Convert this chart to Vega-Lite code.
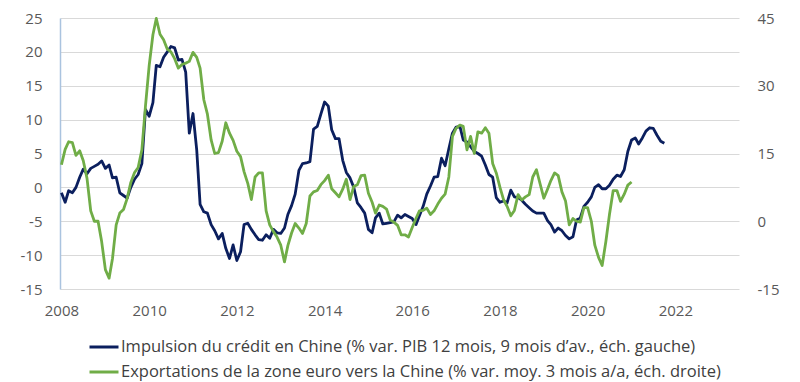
{
  "$schema": "https://vega.github.io/schema/vega-lite/v6.json",
  "width": 679,
  "height": 271,
  "autosize": {"type": "none"},
  "padding": {"left": 60, "top": 18, "right": 61, "bottom": 93},
  "background": "white",
  "config": {
    "view": {"stroke": null},
    "font": "Open Sans",
    "axis": {"labelFont": "Open Sans", "labelFontSize": 15, "labelColor": "#595959", "ticks": false}
  },
  "data": {"values": [
    {"date":"2008-01-01","credit":-0.8,"exports":12.5},
    {"date":"2008-02-01","credit":-2.2,"exports":15.9},
    {"date":"2008-03-01","credit":-0.5,"exports":17.6},
    {"date":"2008-04-01","credit":-0.8,"exports":17.4},
    {"date":"2008-05-01","credit":0.0,"exports":14.6},
    {"date":"2008-06-01","credit":1.5,"exports":15.6},
    {"date":"2008-07-01","credit":2.7,"exports":13.4},
    {"date":"2008-08-01","credit":2.0,"exports":9.5},
    {"date":"2008-09-01","credit":2.8,"exports":2.3},
    {"date":"2008-10-01","credit":3.1,"exports":0.0},
    {"date":"2008-11-01","credit":3.4,"exports":0.0},
    {"date":"2008-12-01","credit":3.9,"exports":-4.5},
    {"date":"2009-01-01","credit":2.8,"exports":-10.7},
    {"date":"2009-02-01","credit":3.3,"exports":-12.6},
    {"date":"2009-03-01","credit":1.4,"exports":-8.3},
    {"date":"2009-04-01","credit":1.5,"exports":-0.8},
    {"date":"2009-05-01","credit":-0.8,"exports":1.8},
    {"date":"2009-06-01","credit":-1.2,"exports":2.6},
    {"date":"2009-07-01","credit":-1.6,"exports":5.0},
    {"date":"2009-08-01","credit":0.0,"exports":8.6},
    {"date":"2009-09-01","credit":1.2,"exports":10.8},
    {"date":"2009-10-01","credit":1.9,"exports":11.9},
    {"date":"2009-11-01","credit":3.5,"exports":15.8},
    {"date":"2009-12-01","credit":11.5,"exports":25.5},
    {"date":"2010-01-01","credit":10.5,"exports":34.5},
    {"date":"2010-02-01","credit":12.5,"exports":41.3},
    {"date":"2010-03-01","credit":18.0,"exports":44.9},
    {"date":"2010-04-01","credit":17.8,"exports":41.4},
    {"date":"2010-05-01","credit":19.2,"exports":40.2},
    {"date":"2010-06-01","credit":20.0,"exports":38.1},
    {"date":"2010-07-01","credit":20.8,"exports":37.5},
    {"date":"2010-08-01","credit":20.6,"exports":36.0},
    {"date":"2010-09-01","credit":18.8,"exports":33.9},
    {"date":"2010-10-01","credit":18.9,"exports":34.7},
    {"date":"2010-11-01","credit":17.0,"exports":35.0},
    {"date":"2010-12-01","credit":8.0,"exports":35.4},
    {"date":"2011-01-01","credit":10.9,"exports":37.4},
    {"date":"2011-02-01","credit":5.5,"exports":36.3},
    {"date":"2011-03-01","credit":-2.5,"exports":33.9},
    {"date":"2011-04-01","credit":-3.6,"exports":26.9},
    {"date":"2011-05-01","credit":-3.8,"exports":23.7},
    {"date":"2011-06-01","credit":-5.5,"exports":18.0},
    {"date":"2011-07-01","credit":-6.4,"exports":15.0},
    {"date":"2011-08-01","credit":-7.6,"exports":15.2},
    {"date":"2011-09-01","credit":-6.8,"exports":17.7},
    {"date":"2011-10-01","credit":-9.0,"exports":21.8},
    {"date":"2011-11-01","credit":-10.5,"exports":19.5},
    {"date":"2011-12-01","credit":-8.5,"exports":17.9},
    {"date":"2012-01-01","credit":-10.8,"exports":15.5},
    {"date":"2012-02-01","credit":-9.5,"exports":14.3},
    {"date":"2012-03-01","credit":-5.5,"exports":11.0},
    {"date":"2012-04-01","credit":-5.3,"exports":8.4},
    {"date":"2012-05-01","credit":-6.2,"exports":4.8},
    {"date":"2012-06-01","credit":-7.0,"exports":9.8},
    {"date":"2012-07-01","credit":-7.7,"exports":10.7},
    {"date":"2012-08-01","credit":-7.8,"exports":10.7},
    {"date":"2012-09-01","credit":-7.0,"exports":2.3},
    {"date":"2012-10-01","credit":-7.5,"exports":-0.8},
    {"date":"2012-11-01","credit":-6.2,"exports":-2.3},
    {"date":"2012-12-01","credit":-6.7,"exports":-3.5},
    {"date":"2013-01-01","credit":-6.8,"exports":-5.3},
    {"date":"2013-02-01","credit":-6.0,"exports":-9.0},
    {"date":"2013-03-01","credit":-4.0,"exports":-5.4},
    {"date":"2013-04-01","credit":-2.7,"exports":-2.6},
    {"date":"2013-05-01","credit":-1.0,"exports":-0.5},
    {"date":"2013-06-01","credit":2.5,"exports":-1.5},
    {"date":"2013-07-01","credit":3.5,"exports":-2.7},
    {"date":"2013-08-01","credit":3.6,"exports":-0.5},
    {"date":"2013-09-01","credit":3.8,"exports":5.6},
    {"date":"2013-10-01","credit":8.6,"exports":6.5},
    {"date":"2013-11-01","credit":9.0,"exports":6.8},
    {"date":"2013-12-01","credit":10.8,"exports":8.1},
    {"date":"2014-01-01","credit":12.6,"exports":9.0},
    {"date":"2014-02-01","credit":12.0,"exports":10.2},
    {"date":"2014-03-01","credit":8.5,"exports":7.2},
    {"date":"2014-04-01","credit":7.2,"exports":6.3},
    {"date":"2014-05-01","credit":7.2,"exports":5.4},
    {"date":"2014-06-01","credit":4.0,"exports":7.1},
    {"date":"2014-07-01","credit":2.2,"exports":9.3},
    {"date":"2014-08-01","credit":1.4,"exports":4.8},
    {"date":"2014-09-01","credit":0.0,"exports":7.7},
    {"date":"2014-10-01","credit":-2.3,"exports":8.1},
    {"date":"2014-11-01","credit":-3.0,"exports":10.1},
    {"date":"2014-12-01","credit":-3.8,"exports":10.2},
    {"date":"2015-01-01","credit":-6.2,"exports":6.2},
    {"date":"2015-02-01","credit":-6.7,"exports":4.2},
    {"date":"2015-03-01","credit":-4.5,"exports":1.8},
    {"date":"2015-04-01","credit":-3.8,"exports":3.6},
    {"date":"2015-05-01","credit":-5.4,"exports":3.3},
    {"date":"2015-06-01","credit":-5.3,"exports":2.7},
    {"date":"2015-07-01","credit":-5.2,"exports":0.3},
    {"date":"2015-08-01","credit":-5.1,"exports":-0.2},
    {"date":"2015-09-01","credit":-4.1,"exports":-0.9},
    {"date":"2015-10-01","credit":-4.5,"exports":-3.0},
    {"date":"2015-11-01","credit":-4.0,"exports":-3.0},
    {"date":"2015-12-01","credit":-4.3,"exports":-3.5},
    {"date":"2016-01-01","credit":-4.6,"exports":-1.4},
    {"date":"2016-02-01","credit":-5.5,"exports":0.6},
    {"date":"2016-03-01","credit":-4.2,"exports":2.3},
    {"date":"2016-04-01","credit":-2.8,"exports":2.4},
    {"date":"2016-05-01","credit":-1.0,"exports":2.9},
    {"date":"2016-06-01","credit":0.2,"exports":1.5},
    {"date":"2016-07-01","credit":1.5,"exports":2.3},
    {"date":"2016-08-01","credit":1.6,"exports":3.8},
    {"date":"2016-09-01","credit":4.3,"exports":5.1},
    {"date":"2016-10-01","credit":3.2,"exports":6.0},
    {"date":"2016-11-01","credit":5.7,"exports":9.8},
    {"date":"2016-12-01","credit":8.0,"exports":18.8},
    {"date":"2017-01-01","credit":8.9,"exports":20.6},
    {"date":"2017-02-01","credit":9.0,"exports":21.3},
    {"date":"2017-03-01","credit":7.0,"exports":21.0},
    {"date":"2017-04-01","credit":6.7,"exports":15.8},
    {"date":"2017-05-01","credit":6.0,"exports":18.8},
    {"date":"2017-06-01","credit":5.3,"exports":15.0},
    {"date":"2017-07-01","credit":5.0,"exports":19.8},
    {"date":"2017-08-01","credit":4.6,"exports":19.5},
    {"date":"2017-09-01","credit":3.3,"exports":20.7},
    {"date":"2017-10-01","credit":1.9,"exports":19.5},
    {"date":"2017-11-01","credit":1.5,"exports":12.8},
    {"date":"2017-12-01","credit":-1.5,"exports":10.7},
    {"date":"2018-01-01","credit":-2.2,"exports":7.5},
    {"date":"2018-02-01","credit":-2.0,"exports":4.7},
    {"date":"2018-03-01","credit":-2.3,"exports":3.3},
    {"date":"2018-04-01","credit":-0.4,"exports":1.2},
    {"date":"2018-05-01","credit":-1.4,"exports":2.4},
    {"date":"2018-06-01","credit":-1.5,"exports":5.9},
    {"date":"2018-07-01","credit":-1.9,"exports":4.7},
    {"date":"2018-08-01","credit":-2.5,"exports":5.4},
    {"date":"2018-09-01","credit":-3.0,"exports":5.9},
    {"date":"2018-10-01","credit":-3.5,"exports":9.8},
    {"date":"2018-11-01","credit":-3.8,"exports":11.4},
    {"date":"2018-12-01","credit":-3.8,"exports":8.3},
    {"date":"2019-01-01","credit":-3.8,"exports":5.1},
    {"date":"2019-02-01","credit":-4.9,"exports":7.1},
    {"date":"2019-03-01","credit":-5.5,"exports":9.0},
    {"date":"2019-04-01","credit":-6.6,"exports":10.7},
    {"date":"2019-05-01","credit":-6.0,"exports":10.1},
    {"date":"2019-06-01","credit":-6.4,"exports":6.5},
    {"date":"2019-07-01","credit":-7.1,"exports":4.5},
    {"date":"2019-08-01","credit":-7.6,"exports":-0.8},
    {"date":"2019-09-01","credit":-7.3,"exports":0.6},
    {"date":"2019-10-01","credit":-4.8,"exports":0.0},
    {"date":"2019-11-01","credit":-4.5,"exports":-0.2},
    {"date":"2019-12-01","credit":-2.8,"exports":3.0},
    {"date":"2020-01-01","credit":-2.2,"exports":3.0},
    {"date":"2020-02-01","credit":-1.4,"exports":0.0},
    {"date":"2020-03-01","credit":0.0,"exports":-5.3},
    {"date":"2020-04-01","credit":0.4,"exports":-8.0},
    {"date":"2020-05-01","credit":-0.2,"exports":-9.8},
    {"date":"2020-06-01","credit":-0.2,"exports":-4.5},
    {"date":"2020-07-01","credit":0.3,"exports":1.5},
    {"date":"2020-08-01","credit":1.2,"exports":6.8},
    {"date":"2020-09-01","credit":1.8,"exports":6.8},
    {"date":"2020-10-01","credit":1.6,"exports":4.4},
    {"date":"2020-11-01","credit":2.6,"exports":6.0},
    {"date":"2020-12-01","credit":5.3,"exports":8.0},
    {"date":"2021-01-01","credit":7.0,"exports":8.7},
    {"date":"2021-02-01","credit":7.3,"exports":null},
    {"date":"2021-03-01","credit":6.4,"exports":null},
    {"date":"2021-04-01","credit":7.3,"exports":null},
    {"date":"2021-05-01","credit":8.3,"exports":null},
    {"date":"2021-06-01","credit":8.8,"exports":null},
    {"date":"2021-07-01","credit":8.7,"exports":null},
    {"date":"2021-08-01","credit":7.7,"exports":null},
    {"date":"2021-09-01","credit":6.8,"exports":null},
    {"date":"2021-10-01","credit":6.5,"exports":null}
  ]},
  "encoding": {
    "x": {
      "field": "date",
      "type": "temporal",
      "title": null,
      "scale": {
        "type": "utc",
        "domain": [{"year": 2007, "month": 12, "date": 20, "utc": true}, {"year": 2023, "month": 6, "date": 15, "utc": true}]
      },
      "axis": {
        "values": [
          {"year": 2008, "utc": true}, {"year": 2010, "utc": true}, {"year": 2012, "utc": true},
          {"year": 2014, "utc": true}, {"year": 2016, "utc": true}, {"year": 2018, "utc": true},
          {"year": 2020, "utc": true}, {"year": 2022, "utc": true}
        ],
        "format": "%Y",
        "grid": false,
        "domain": false,
        "labelPadding": 14,
        "labelFlush": false,
        "labelOverlap": false
      }
    }
  },
  "layer": [
    {
      "mark": {"type": "line", "strokeWidth": 2.8, "strokeJoin": "round", "clip": false},
      "encoding": {
        "y": {
          "field": "credit",
          "type": "quantitative",
          "title": null,
          "scale": {"domain": [-15, 25], "nice": false, "zero": false},
          "axis": {
            "orient": "left",
            "values": [-15, -10, -5, 0, 5, 10, 15, 20, 25],
            "labelExpr": "'' + datum.value",
            "grid": true,
            "gridColor": "#d9d9d9",
            "gridWidth": 1,
            "domain": true,
            "domainColor": "#aac3df",
            "domainWidth": 1.5,
            "labelPadding": 18,
            "labelFlush": false
          }
        },
        "color": {
          "datum": "Impulsion du crédit en Chine (% var. PIB 12 mois, 9 mois d’av., éch. gauche)",
          "type": "nominal",
          "scale": {
            "domain": [
              "Impulsion du crédit en Chine (% var. PIB 12 mois, 9 mois d’av., éch. gauche)",
              "Exportations de la zone euro vers la Chine (% var. moy. 3 mois a/a, éch. droite)"
            ],
            "range": ["#0b1f5e", "#70ad47"]
          },
          "legend": {
            "title": null,
            "orient": "none",
            "direction": "vertical",
            "legendX": 28,
            "legendY": 313,
            "symbolType": "stroke",
            "symbolSize": 841,
            "symbolStrokeWidth": 3,
            "labelFont": "Open Sans",
            "labelFontSize": 16.5,
            "labelColor": "#404040",
            "labelLimit": 800,
            "labelOffset": 1,
            "rowPadding": -6,
            "padding": 0
          }
        }
      }
    },
    {
      "mark": {"type": "line", "strokeWidth": 2.8, "strokeJoin": "round", "clip": false},
      "encoding": {
        "y": {
          "field": "exports",
          "type": "quantitative",
          "title": null,
          "scale": {"domain": [-15, 45], "nice": false, "zero": false},
          "axis": {
            "orient": "right",
            "values": [-15, 0, 15, 30, 45],
            "labelExpr": "'' + datum.value",
            "grid": false,
            "domain": false,
            "labelPadding": 18,
            "labelFlush": false
          }
        },
        "color": {
          "datum": "Exportations de la zone euro vers la Chine (% var. moy. 3 mois a/a, éch. droite)",
          "type": "nominal"
        }
      }
    }
  ],
  "resolve": {"scale": {"y": "independent"}}
}
